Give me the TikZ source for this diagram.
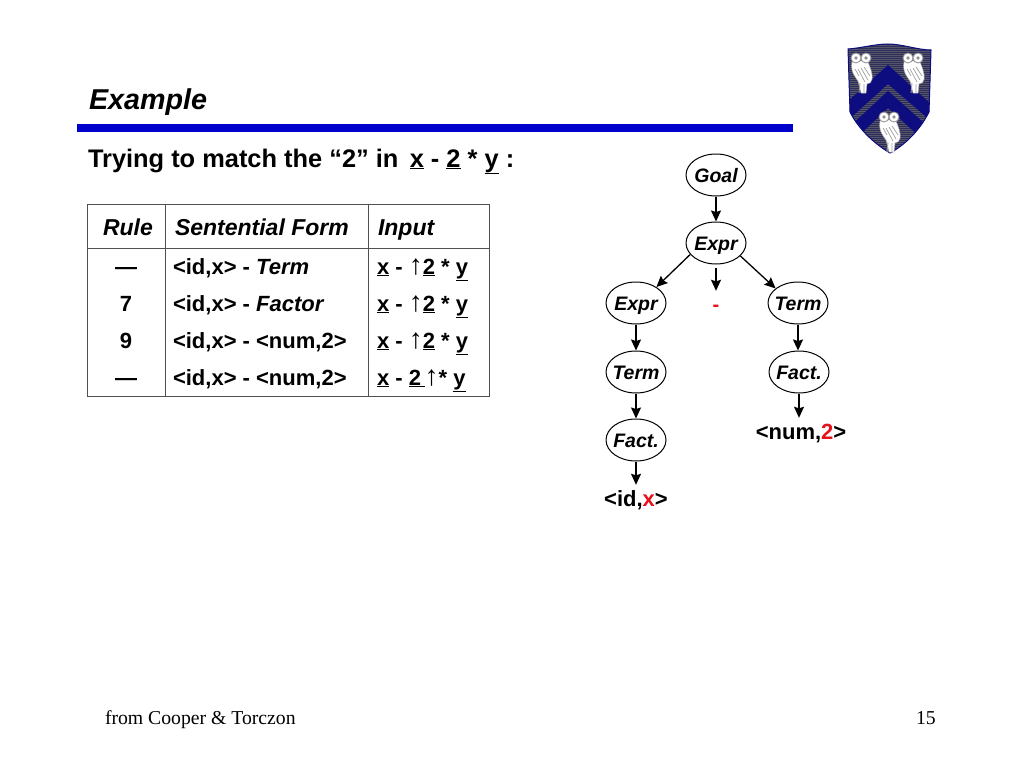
\documentclass[tikz,border=0pt]{standalone}
\usepackage{fontspec}
\setmainfont{Liberation Sans}
\newfontfamily\serifface{Liberation Serif}
\usetikzlibrary{arrows.meta,shapes.geometric}
\definecolor{barblue}{HTML}{0000CC}
\definecolor{shieldnavy}{HTML}{0D0D80}
\definecolor{shieldgray}{HTML}{55556A}
\definecolor{shieldline}{HTML}{2E2E5A}
\definecolor{rulegray}{HTML}{505050}
\definecolor{treered}{HTML}{E8101A}
\newcommand{\ua}{\raisebox{0pt}{\mdseries\fontsize{28}{28}\selectfont ↑}}
\newcommand{\ux}{\underline{x}}
\newcommand{\utwo}{\underline{2}}
\newcommand{\uy}{\underline{y}}
\newcommand{\tn}[1]{\makebox[38pt][c]{#1}}
\tikzset{
  txt/.style={inner sep=0pt,outer sep=0pt,anchor=base west,text=black},
  cell/.style={txt,font=\bfseries\fontsize{22}{26}\selectfont},
  celli/.style={txt,font=\bfseries\itshape\fontsize{23}{26}\selectfont},
  numcell/.style={inner sep=0pt,anchor=base,font=\bfseries\fontsize{22}{26}\selectfont},
  treenode/.style={ellipse,draw=black,line width=1pt,minimum width=60pt,minimum height=42pt,inner sep=0pt,text height=18pt,text depth=4pt,font=\fontsize{19.5}{20}\selectfont\bfseries\itshape},
  leaf/.style={inner sep=0pt,anchor=base,text height=21pt,text depth=0pt,font=\fontsize{22}{24}\selectfont\bfseries},
  edge/.style={-{Stealth[length=11pt,width=10pt,inset=1.5pt]},line width=1.3pt,black},
  tablerule/.style={rulegray,line width=1pt}
}
\newcommand{\owlat}[2]{%
  \begin{scope}[shift={(#1,#2)}]
    \fill[white,draw=gray!70,line width=.5pt] (-9,-4) .. controls (-11,6) and (-5,12) .. (-3,15) -- (0,27) -- (5,27) -- (6,18) .. controls (12,18) and (12,10) .. (10,4) .. controls (8,-2) and (7,-4) .. (6,-6) -- cycle;
    \draw[gray!75,line width=.7pt] (0,2) -- (7,14) (-3,3) -- (4,16) (3,1) -- (9,10) (-6,3) -- (-2,10);
    \draw[gray!75,line width=.9pt] (-1,17) -- (-2,27) (3,18) -- (3,27);
    \fill[white,draw=gray!80,line width=.9pt] (-5,-8) circle (5) (5,-8) circle (5);
    \fill[gray!85] (-5,-8) circle (1.8) (5,-8) circle (1.8);
  \end{scope}}
\begin{document}
\begin{tikzpicture}[x=1pt,y=-1pt]
\useasboundingbox (0,0) rectangle (1024,768);
\fill[white] (0,0) rectangle (1024,768);

% title
\node[txt,font=\fontsize{28.7}{32}\selectfont\bfseries\itshape] (title) at (89,109) {Example};
\fill[barblue] (77,124) rectangle (793,132);
\node[txt,font=\fontsize{25.4}{28}\selectfont\bfseries] (subtitle) at (88,167) {Trying to match the “2” in\, \ux{} - \utwo{} * \uy{} :};

% shield
\begin{scope}
  \clip (848,49) .. controls (862,48) and (875,44) .. (888,44) .. controls (902,44) and (918,50) .. (931,50)
     -- (929,112) .. controls (920,130) and (905,145) .. (890,153) .. controls (873,143) and (858,128) .. (850,112) -- cycle;
  \fill[shieldgray] (840,40) rectangle (940,160);
  \foreach \yy in {44,46,...,156} {\draw[shieldline,line width=.7pt] (840,\yy) -- (940,\yy);}
  \fill[shieldnavy] (846,103) -- (888,65) -- (932,105) -- (932,122) -- (888,84) -- (846,122) -- cycle;
  \fill[shieldnavy] (846,130) -- (888,91) -- (932,130) -- (932,148) -- (888,108) -- (846,148) -- cycle;
\end{scope}
\draw[shieldnavy,line width=1pt] (848,49) .. controls (862,48) and (875,44) .. (888,44) .. controls (902,44) and (918,50) .. (931,50)
     -- (929,112) .. controls (920,130) and (905,145) .. (890,153) .. controls (873,143) and (858,128) .. (850,112) -- cycle;
\owlat{861}{66}
\owlat{913}{66}
\owlat{889}{125}

% table
\draw[tablerule] (87,204) rectangle (489,396);
\draw[tablerule] (87,248) -- (489,248);
\draw[tablerule] (165,204) -- (165,396);
\draw[tablerule] (368,204) -- (368,396);

\node[celli] (h1) at (103,235) {Rule};
\node[celli] (h2) at (175,235) {Sentential Form};
\node[celli] (h3) at (378,235) {Input};

\node[numcell] (r1) at (126,274) {—};
\node[numcell] (r2) at (126,311) {7};
\node[numcell] (r3) at (126,348) {9};
\node[numcell] (r4) at (126,385) {—};

\node[cell] (s1) at (173,274) {<id,x> - \textit{Term}};
\node[cell] (s2) at (173,311) {<id,x> - \textit{Factor}};
\node[cell] (s3) at (173,348) {<id,x> - <num,2>};
\node[cell] (s4) at (173,385) {<id,x> - <num,2>};

\node[cell] (i1) at (377,274) {\ux{} - \ua\utwo{} * \uy};
\node[cell] (i2) at (377,311) {\ux{} - \ua\utwo{} * \uy};
\node[cell] (i3) at (377,348) {\ux{} - \ua\utwo{} * \uy};
\node[cell] (i4) at (377,385) {\ux{} - \underline{2\,}\ua* \uy};

% tree
\node[treenode] (goal) at (716,175) {\tn{Goal}};
\node[treenode] (expr) at (716,243) {\tn{Expr}};
\node[treenode] (exprl) at (636,303) {\tn{Expr}};
\node[treenode] (termr) at (798,303) {\tn{Term}};
\node[treenode] (terml) at (636,372) {\tn{Term}};
\node[treenode] (factr) at (799,372) {\tn{Fact.}};
\node[treenode] (factl) at (636,440) {\tn{Fact.}};
\node[leaf,text height=20pt,font=\fontsize{20}{24}\selectfont\bfseries,text=treered] (minus) at (716,311) {-};
\node[leaf] (num) at (801,439) {<num,\textcolor{treered}{2}>};
\node[leaf] (id) at (636,506) {<id,\textcolor{treered}{x}>};

\draw[edge] (goal) -- (expr);
\draw[edge] (expr.204) -- (exprl.38);
\draw[edge,shorten <=3pt] (expr) -- (minus);
\draw[edge] (expr.-28) -- (termr.147);
\draw[edge] (exprl) -- (terml);
\draw[edge] (terml) -- (factl);
\draw[edge] (factl) -- (id);
\draw[edge] (termr) -- (factr.north -| termr.south);
\draw[edge] (factr.south) -- (num.north -| factr.south);

% footer
\node[txt,font=\fontsize{19.7}{22}\selectfont\serifface] (foot) at (105,724) {from Cooper \& Torczon};
\node[txt,font=\fontsize{19.7}{22}\selectfont\serifface] (page) at (916,724) {15};
\end{tikzpicture}
\end{document}
